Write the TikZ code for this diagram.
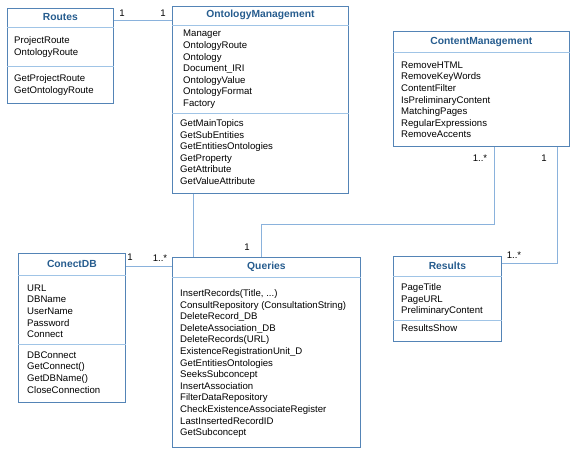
\documentclass[tikz,border=0pt]{standalone}
\usepackage{fontspec}
\setmainfont{Liberation Sans}
\usepackage{tikz}
\definecolor{boxblue}{RGB}{84,132,182}
\definecolor{paleblue}{RGB}{160,196,230}
\definecolor{linkblue}{RGB}{138,178,220}
\definecolor{titleblue}{RGB}{38,92,142}

\begin{document}
\begin{tikzpicture}[x=1pt,y=-1pt,
    umlclass/.style={draw=boxblue,line width=.8pt,anchor=north west,inner sep=0pt},
    sepline/.style={draw=paleblue,line width=.9pt},
    classname/.style={font=\fontsize{10.3}{12}\selectfont\bfseries,text=titleblue,inner sep=0pt},
    items/.style={font=\fontsize{9.6}{11.6}\selectfont,align=left,anchor=north west,inner sep=0pt},
    link/.style={draw=linkblue,line width=.8pt},
    mult/.style={font=\fontsize{9.6}{11.6}\selectfont,inner sep=0pt}]
                \useasboundingbox (0,0) rectangle (579,453);
                % classes
                \node[umlclass,minimum width=106,minimum height=95] (routes) at (7,8) {};
                \draw[sepline] (routes.west|-0,27)--(routes.east|-0,27);
                \draw[sepline] (routes.west|-0,66)--(routes.east|-0,66);
                \node[classname] (routes-name) at (routes.north|-0,17) {Routes};
                \node[items] (routes-attr) at (14,36.4) {ProjectRoute\\OntologyRoute};
                \node[items] (routes-op) at (14,74.4) {GetProjectRoute\\GetOntologyRoute};

                \node[umlclass,minimum width=176,minimum height=187] (om) at (172,6) {};
                \draw[sepline] (om.west|-0,25)--(om.east|-0,25);
                \draw[sepline] (om.west|-0,113)--(om.east|-0,113);
                \node[classname] (om-name) at (om.north|-0,15) {OntologyManagement};
                \node[items] (om-attr) at (183,30) {Manager\\OntologyRoute\\Ontology\\Document\_IRI\\OntologyValue\\OntologyFormat\\Factory};
                \node[items] (om-op) at (180,119.4) {GetMainTopics\\GetSubEntities\\GetEntitiesOntologies\\GetProperty\\GetAttribute\\GetValueAttribute};

                \node[umlclass,minimum width=176,minimum height=115] (cm) at (393,31) {};
                \draw[sepline] (cm.west|-0,52)--(cm.east|-0,52);
                \node[classname] (cm-name) at (cm.north|-0,42) {ContentManagement};
                \node[items] (cm-attr) at (401,61.4) {RemoveHTML\\RemoveKeyWords\\ContentFilter\\IsPreliminaryContent\\MatchingPages\\RegularExpressions\\RemoveAccents};

                \node[umlclass,minimum width=107,minimum height=149] (db) at (18,253) {};
                \draw[sepline] (db.west|-0,275)--(db.east|-0,275);
                \draw[sepline] (db.west|-0,344)--(db.east|-0,344);
                \node[classname] (db-name) at (db.north|-0,264) {ConectDB};
                \node[items] (db-attr) at (27,284.4) {URL\\DBName\\UserName\\Password\\Connect};
                \node[items] (db-op) at (27,351.4) {DBConnect\\GetConnect()\\GetDBName()\\CloseConnection};

                \node[umlclass,minimum width=188,minimum height=190] (queries) at (172,257) {};
                \draw[sepline] (queries.west|-0,277)--(queries.east|-0,277);
                \node[classname] (queries-name) at (queries.north|-0,267) {Queries};
                \node[items] (queries-op) at (180,289.4) {InsertRecords(Title, ...)\\ConsultRepository (ConsultationString)\\DeleteRecord\_DB\\DeleteAssociation\_DB\\DeleteRecords(URL)\\ExistenceRegistrationUnit\_D\\GetEntitiesOntologies\\SeeksSubconcept\\InsertAssociation\\FilterDataRepository\\CheckExistenceAssociateRegister\\LastInsertedRecordID\\GetSubconcept};

                \node[umlclass,minimum width=108,minimum height=85] (results) at (393,256) {};
                \draw[sepline] (results.west|-0,276)--(results.east|-0,276);
                \draw[sepline] (results.west|-0,320)--(results.east|-0,320);
                \node[classname] (results-name) at (results.north|-0,266) {Results};
                \node[items] (results-attr) at (401,283.4) {PageTitle\\PageURL\\PreliminaryContent};
                \node[items] (results-op) at (401,324.4) {ResultsShow};

                % associations
                \draw[link] (routes.east|-0,20)--(om.west|-0,20);
                \node[mult] (m1) at (122,13) {1};
                \node[mult] (m2) at (163,13) {1};
                \draw[link] (db.east|-0,266)--(queries.west|-0,266);
                \node[mult] (m3) at (130,257) {1};
                \node[mult] (m4) at (160,258) {1..*};
                \draw[link] (om.south-|193,0)--(queries.north-|193,0);
                \coordinate (bend) at (261,224);
                \draw[link] (cm.south-|494,0)|-(bend)--(bend|-queries.north);
                \node[mult] (m5) at (247,247) {1};
                \node[mult] (m6) at (480,158) {1..*};
                \draw[link] (cm.south-|557,0)|-(results.east|-0,263);
                \node[mult] (m7) at (544,158) {1};
                \node[mult] (m8) at (514,255) {1..*};
            \end{tikzpicture}
\end{document}
